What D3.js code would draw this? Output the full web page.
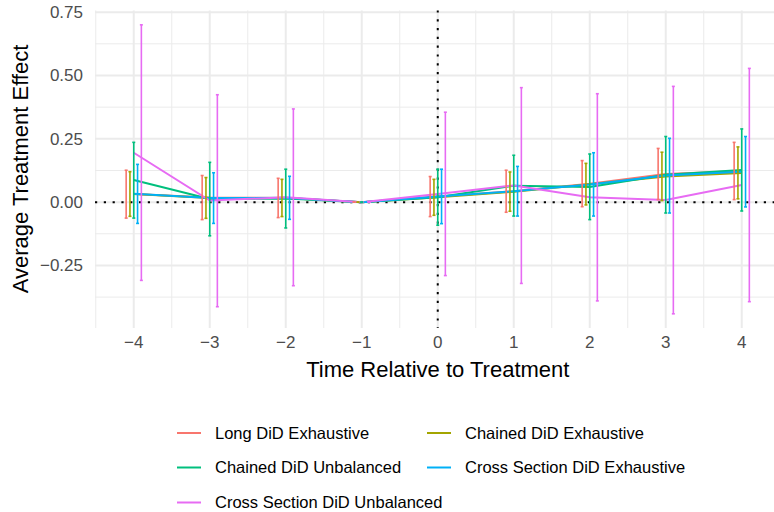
<!DOCTYPE html>
<html><head><meta charset="utf-8">
<script src="https://cdn.jsdelivr.net/npm/d3@7"></script>
<style>body{margin:0;background:#fff}svg{display:block}text{font-family:"Liberation Sans",Arial,Helvetica,sans-serif}</style>
</head><body><svg id="c" width="774" height="512"></svg>
<script>
const times = [-4,-3,-2,-1,0,1,2,3,4];
const seriesNames = ["Long DiD Exhaustive","Chained DiD Exhaustive","Chained DiD Unbalanced","Cross Section DiD Exhaustive","Cross Section DiD Unbalanced"];
const seriesColors = ["#F8766D","#A3A500","#00BF7D","#00B0F6","#E76BF3"];
// point estimates
const estLong     = [0.032,0.018,0.016,0,0.022,0.043,0.073,0.111,0.123];
const estChainEx  = [0.032,0.016,0.016,0,0.019,0.041,0.071,0.101,0.115];
const estChainUn  = [0.087,0.012,0.014,0,0.019,0.065,0.060,0.108,0.127];
const estCSEx     = [0.033,0.016,0.017,0,0.022,0.043,0.070,0.105,0.120];
const estCSUn     = [0.195,0.006,0.019,0,0.032,0.066,0.019,0.008,0.068];
// lower bounds
const loLong      = [-0.063,-0.069,-0.061,0,-0.057,-0.040,-0.018,0.010,0.010];
const loChainEx   = [-0.056,-0.064,-0.057,0,-0.052,-0.036,-0.011,0.006,0.013];
const loChainUn   = [-0.063,-0.133,-0.102,0,-0.091,-0.055,-0.069,-0.043,-0.035];
const loCSEx      = [-0.084,-0.084,-0.068,0,-0.085,-0.055,-0.055,-0.043,-0.019];
const loCSUn      = [-0.309,-0.413,-0.330,0,-0.290,-0.321,-0.390,-0.441,-0.393];
// upper bounds
const hiLong      = [0.126,0.105,0.094,0,0.101,0.126,0.164,0.212,0.236];
const hiChainEx   = [0.120,0.097,0.090,0,0.090,0.119,0.153,0.197,0.218];
const hiChainUn   = [0.236,0.157,0.130,0,0.130,0.185,0.190,0.259,0.289];
const hiCSEx      = [0.149,0.116,0.102,0,0.130,0.141,0.195,0.252,0.259];
const hiCSUn      = [0.700,0.424,0.368,0,0.355,0.452,0.428,0.457,0.528];
const yTicks = [-0.25,0,0.25,0.5,0.75];
const yMinor = [-0.375,-0.125,0.125,0.375,0.625];
const xMinor = [-4.5,-3.5,-2.5,-1.5,-0.5,0.5,1.5,2.5,3.5,4.5];

const ests = [estLong,estChainEx,estChainUn,estCSEx,estCSUn];
const los  = [loLong,loChainEx,loChainUn,loCSEx,loCSUn];
const his  = [hiLong,hiChainEx,hiChainUn,hiCSEx,hiCSUn];
const series = seriesNames.map((n,i)=>({name:n,color:seriesColors[i],idx:i,
  pts:times.map((t,j)=>({t,est:ests[i][j],lo:los[i][j],hi:his[i][j]}))}));

const svg = d3.select("#c");
const x = d3.scaleLinear().domain([-4.51,4.51]).range([95,780.5]);
const y = d3.scaleLinear().domain([-0.497,0.757]).range([328,10.4]);
const dodge = d3.scalePoint().domain(d3.range(5)).range([-0.1,0.1]);
const fmtY = v => d3.format(".2f")(v).replace("-","\u2212");
const fmtX = v => (v<0?"\u2212":"")+Math.abs(v);

const grid = svg.append("g");
grid.selectAll(".hm").data(yMinor).join("line").attr("x1",95).attr("x2",774)
  .attr("y1",d=>y(d)).attr("y2",d=>y(d)).attr("stroke","#EBEBEB").attr("stroke-width",1);
grid.selectAll(".vm").data(xMinor).join("line").attr("y1",10.4).attr("y2",328)
  .attr("x1",d=>x(d)).attr("x2",d=>x(d)).attr("stroke","#EBEBEB").attr("stroke-width",1);
grid.selectAll(".hM").data(yTicks).join("line").attr("x1",95).attr("x2",774)
  .attr("y1",d=>y(d)).attr("y2",d=>y(d)).attr("stroke","#EBEBEB").attr("stroke-width",2);
grid.selectAll(".vM").data(times).join("line").attr("y1",10.4).attr("y2",328)
  .attr("x1",d=>x(d)).attr("x2",d=>x(d)).attr("stroke","#EBEBEB").attr("stroke-width",2);

// reference lines
svg.append("line").attr("x1",95).attr("x2",774).attr("y1",y(0)).attr("y2",y(0))
  .attr("stroke","#000").attr("stroke-width",2).attr("stroke-dasharray","2.2 6.6");
svg.append("line").attr("x1",x(0)).attr("x2",x(0)).attr("y1",10.4).attr("y2",328)
  .attr("stroke","#000").attr("stroke-width",2).attr("stroke-dasharray","2.2 6.6");

// lines
const line = d3.line().x(d=>x(d.t)).y(d=>y(d.est));
svg.append("g").selectAll("path").data(series).join("path")
  .attr("d",s=>line(s.pts)).attr("fill","none").attr("stroke",s=>s.color).attr("stroke-width",2);

// error bars
const eb = svg.append("g").selectAll("g").data(series).join("g").attr("stroke",s=>s.color).attr("stroke-width",1.6);
eb.each(function(s){
  const g = d3.select(this);
  const off = dodge(s.idx);
  g.selectAll(".v").data(s.pts).join("line")
    .attr("x1",d=>x(d.t+off)).attr("x2",d=>x(d.t+off)).attr("y1",d=>y(d.lo)).attr("y2",d=>y(d.hi));
  g.selectAll(".ct").data(s.pts).join("line")
    .attr("x1",d=>x(d.t+off)-1.5).attr("x2",d=>x(d.t+off)+1.5).attr("y1",d=>y(d.hi)).attr("y2",d=>y(d.hi));
  g.selectAll(".cb").data(s.pts).join("line")
    .attr("x1",d=>x(d.t+off)-1.5).attr("x2",d=>x(d.t+off)+1.5).attr("y1",d=>y(d.lo)).attr("y2",d=>y(d.lo));
});

// axes labels
svg.append("g").selectAll("text").data(yTicks).join("text")
  .attr("x",83).attr("y",d=>y(d)).attr("dy","0.35em").attr("text-anchor","end")
  .attr("font-size",17).attr("fill","#4D4D4D").text(fmtY);
svg.append("g").selectAll("text").data(times).join("text")
  .attr("x",d=>x(d)).attr("y",342).attr("dy","0.35em").attr("text-anchor","middle")
  .attr("font-size",17).attr("fill","#4D4D4D").text(fmtX);
svg.append("text").attr("x",437.8).attr("y",369).attr("dy","0.35em").attr("text-anchor","middle")
  .attr("font-size",22).attr("fill","#000").text("Time Relative to Treatment");
svg.append("text").attr("transform","translate(20,169) rotate(-90)").attr("dy","0.35em")
  .attr("text-anchor","middle").attr("font-size",22).attr("fill","#000").text("Average Treatment Effect");

// legend (by row, 2 columns)
const legCols = [177,427];
const legRows = [433,467.5,502.5];
const leg = svg.append("g").selectAll("g").data(series).join("g")
  .attr("transform",(s,i)=>`translate(${legCols[i%2]},${legRows[Math.floor(i/2)]})`);
leg.append("line").attr("x1",0).attr("x2",24).attr("stroke",s=>s.color).attr("stroke-width",2);
leg.append("text").attr("x",38).attr("dy","0.35em").attr("font-size",16.5).attr("fill","#000").text(s=>s.name);
</script></body></html>
